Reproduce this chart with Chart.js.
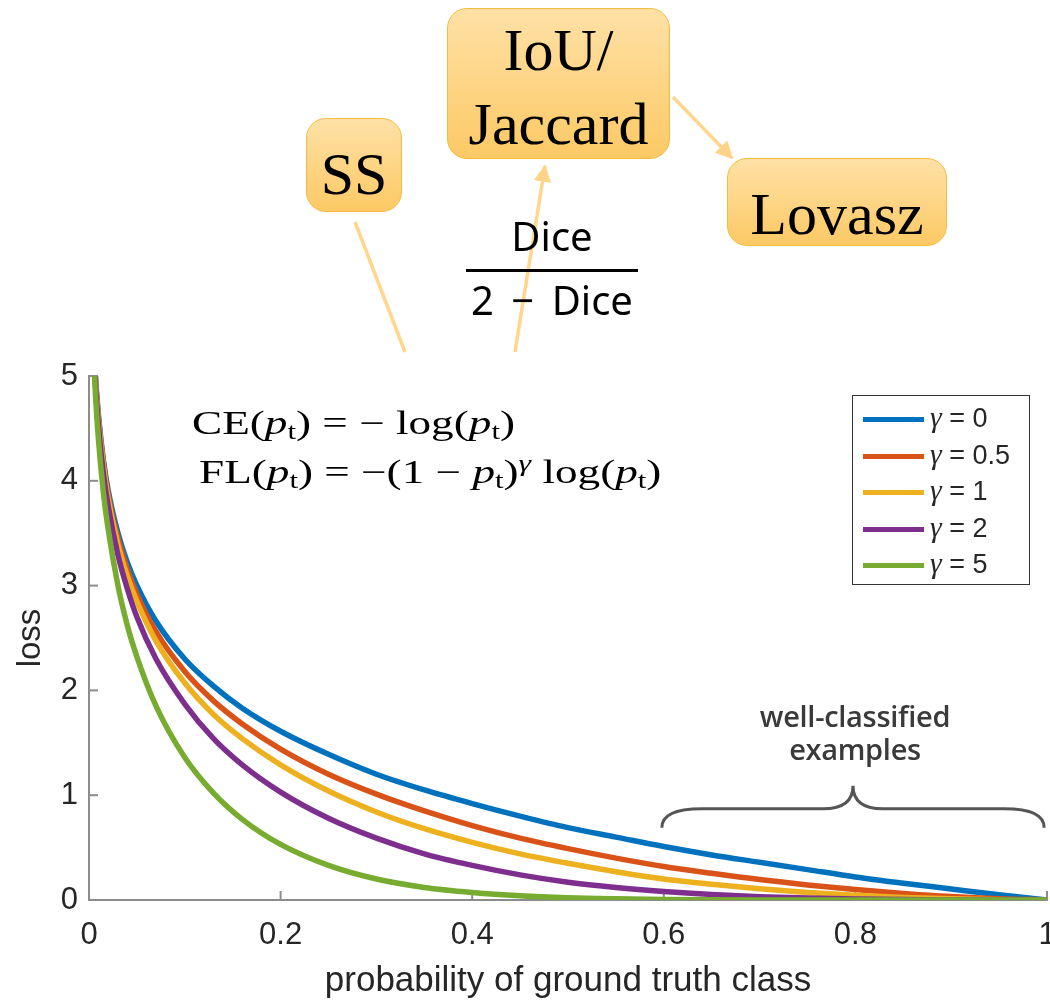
<!DOCTYPE html>
<html lang="en">
<head>
<meta charset="UTF-8">
<title>Focal loss vs probability</title>
<script src="https://cdn.jsdelivr.net/npm/chart.js"></script>
<style>
  body { margin: 0; background: #fff; }
  #wrap { position: relative; width: 1050px; height: 1000px; overflow: hidden; }
  #lossChart { position: absolute; left: 0; top: 0; }
  #overlay { position: absolute; left: 0; top: 0; pointer-events: none; }
  .box {
    position: absolute; box-sizing: border-box;
    border: 1.5px solid #f3bb40; border-radius: 20px;
    background: linear-gradient(#ffe1a6, #fcc965);
    font-family: 'Liberation Serif', serif; font-size: 60px; color: #000;
    text-align: center;
  }
  .formula {
    position: absolute; font-family: 'Liberation Serif', serif; font-size: 33px;
    color: #000; white-space: nowrap; transform-origin: 0 0; transform: scaleX(1.37);
  }
  .sub { font-size: 0.68em; vertical-align: -0.22em; }
  .frac {
    position: absolute; left: 462px; top: 208px; width: 180px;
    font-family: 'Noto Sans', sans-serif; font-size: 40px; text-align: center; color: #000;
  }
  .frac .bar { height: 3px; background: #000; margin: 6px 4px 0 4px; }
  .frac .den { word-spacing: 7px; margin-left: -8px; margin-right: -8px; }
  #legend {
    position: absolute; left: 852px; top: 395px; width: 178px; height: 190px;
    box-sizing: border-box; border: 1.5px solid #333; background: #fff;
    font-family: 'Liberation Sans', sans-serif; font-size: 27px; color: #262626;
  }
  .lrow { position: absolute; left: 10px; height: 30px; line-height: 30px; white-space: nowrap; }
  .lrow .sw { display: inline-block; width: 61px; height: 5px; vertical-align: middle; margin-right: 6px; }
  .lrow i { font-family: 'Liberation Serif', serif; font-size: 1.1em; }
  .note {
    position: absolute; left: 725px; top: 699px; width: 260px; text-align: center;
    font-family: 'Open Sans', sans-serif; font-size: 29px; font-weight: 600; line-height: 33px;
    color: #3a3a3a; letter-spacing: -0.3px;
  }
</style>
</head>
<body>
<div id="wrap">
  <canvas id="lossChart" width="1050" height="1000"></canvas>

  <svg id="overlay" width="1050" height="1000">
    <defs>
      <marker id="head" viewBox="0 0 10 10" refX="9" refY="5" markerWidth="5" markerHeight="5" orient="auto">
        <path d="M0,0 L10,5 L0,10 z" fill="#ffd489"/>
      </marker>
    </defs>
    <line x1="355" y1="222" x2="405" y2="352" stroke="#ffd68c" stroke-width="3.5"/>
    <line x1="515" y1="352" x2="545" y2="166" stroke="#ffd68c" stroke-width="3.5" marker-end="url(#head)"/>
    <line x1="673" y1="97" x2="732" y2="158" stroke="#ffd68c" stroke-width="3.5" marker-end="url(#head)"/>
  </svg>

  <div class="box" style="left:306px; top:118px; width:96px; height:94px; line-height:110px;">SS</div>
  <div class="box" style="left:447px; top:8px; width:223px; height:151px; line-height:74px; padding-top:4px;">IoU/<br>Jaccard</div>
  <div class="box" style="left:727px; top:158px; width:220px; height:88px; line-height:110px;">Lovasz</div>

  <div class="frac">
    <div>Dice</div>
    <div class="bar"></div>
    <div class="den">2 − Dice</div>
  </div>

  <div class="formula" style="left:192px; top:405px;">CE(<i>p</i><span class="sub">t</span>) = − log(<i>p</i><span class="sub">t</span>)</div>
  <div class="formula" style="left:199px; top:450px;">FL(<i>p</i><span class="sub">t</span>) = −(1 − <i>p</i><span class="sub">t</span>)<sup style="font-size:0.7em;"><i>γ</i></sup> log(<i>p</i><span class="sub">t</span>)</div>

  <div id="legend"></div>
  <div class="note">well-classified<br>examples</div>
</div>

<script>
// probability of ground truth class (x)
const probs = [0.005, 0.0067, 0.01, 0.015, 0.02, 0.03, 0.04, 0.05, 0.07, 0.1, 0.13, 0.16, 0.2, 0.25,
               0.3, 0.35, 0.4, 0.45, 0.5, 0.55, 0.6, 0.65, 0.7, 0.75, 0.8, 0.85, 0.9, 0.95, 1.0];

const lossG0   = [5.30, 5.00, 4.61, 4.20, 3.91, 3.51, 3.22, 3.00, 2.66, 2.30, 2.04, 1.83, 1.61, 1.39,
                  1.20, 1.05, 0.92, 0.80, 0.69, 0.60, 0.51, 0.43, 0.36, 0.29, 0.22, 0.16, 0.105, 0.05, 0];
const lossG05  = [5.29, 4.98, 4.59, 4.17, 3.87, 3.46, 3.16, 2.92, 2.56, 2.18, 1.90, 1.68, 1.44, 1.20,
                  1.01, 0.85, 0.71, 0.59, 0.49, 0.40, 0.32, 0.255, 0.195, 0.144, 0.10, 0.063, 0.033, 0.012, 0];
const lossG1   = [5.27, 4.97, 4.56, 4.14, 3.83, 3.40, 3.09, 2.85, 2.47, 2.07, 1.77, 1.54, 1.29, 1.04,
                  0.84, 0.68, 0.55, 0.44, 0.35, 0.27, 0.20, 0.15, 0.107, 0.072, 0.045, 0.024, 0.011, 0.003, 0];
const lossG2   = [5.25, 4.93, 4.51, 4.07, 3.76, 3.30, 2.97, 2.70, 2.30, 1.87, 1.54, 1.29, 1.03, 0.78,
                  0.59, 0.44, 0.33, 0.24, 0.17, 0.12, 0.082, 0.053, 0.032, 0.018, 0.009, 0.004, 0.001, 0, 0];
const lossG5   = [5.17, 4.83, 4.38, 3.89, 3.54, 3.01, 2.62, 2.32, 1.85, 1.36, 1.02, 0.77, 0.53, 0.33,
                  0.20, 0.12, 0.072, 0.040, 0.021, 0.011, 0.005, 0.002, 0.001, 0, 0, 0, 0, 0, 0];

const gammaLabels = ['γ = 0', 'γ = 0.5', 'γ = 1', 'γ = 2', 'γ = 5'];
const lineColors = ['#0072bd', '#d95319', '#edb120', '#7e2f8e', '#77ac30'];
const allLosses = [lossG0, lossG05, lossG1, lossG2, lossG5];

const xTickLabels = ['0', '0.2', '0.4', '0.6', '0.8', '1'];
const yTickLabels = ['0', '1', '2', '3', '4', '5'];
const xTitle = 'probability of ground truth class';
const yTitle = 'loss';

const axisGrey = '#8c8c8c';
const textDark = '#262626';

// inward tick marks + brace over the well-classified region
const axisExtras = {
    id: 'axisExtras',
    beforeDatasetsDraw(chart) {
        const {ctx, chartArea, scales} = chart;
        ctx.save();
        ctx.strokeStyle = axisGrey;
        ctx.lineWidth = 2;
        scales.x.ticks.forEach(t => {
            const px = scales.x.getPixelForValue(t.value);
            ctx.beginPath();
            ctx.moveTo(px, chartArea.bottom);
            ctx.lineTo(px, chartArea.bottom - 9);
            ctx.stroke();
        });
        scales.y.ticks.forEach(t => {
            const py = scales.y.getPixelForValue(t.value);
            ctx.beginPath();
            ctx.moveTo(chartArea.left, py);
            ctx.lineTo(chartArea.left + 9, py);
            ctx.stroke();
        });
        ctx.restore();
    },
    afterDatasetsDraw(chart) {
        const {ctx, scales} = chart;
        const x0 = scales.x.getPixelForValue(0.598);
        const x1 = scales.x.getPixelForValue(0.997);
        const xm = (x0 + x1) / 2;
        const yEnd = scales.y.getPixelForValue(0.69);
        const yMid = scales.y.getPixelForValue(0.87);
        const yTip = scales.y.getPixelForValue(1.09);
        ctx.save();
        ctx.strokeStyle = '#555';
        ctx.lineWidth = 3;
        ctx.beginPath();
        ctx.moveTo(x0, yEnd);
        ctx.quadraticCurveTo(x0, yMid, x0 + 40, yMid);
        ctx.lineTo(xm - 30, yMid);
        ctx.quadraticCurveTo(xm, yMid, xm, yTip);
        ctx.quadraticCurveTo(xm, yMid, xm + 30, yMid);
        ctx.lineTo(x1 - 40, yMid);
        ctx.quadraticCurveTo(x1, yMid, x1, yEnd);
        ctx.stroke();
        ctx.restore();
    }
};

const datasets = allLosses.map((vals, i) => ({
    label: gammaLabels[i],
    data: probs.map((p, j) => ({x: p, y: vals[j]})),
    borderColor: lineColors[i],
    borderWidth: 5.5,
    pointRadius: 0,
    cubicInterpolationMode: 'monotone',
    fill: false,
    order: allLosses.length - i
}));

const ctx = document.getElementById('lossChart').getContext('2d');
const lossChart = new Chart(ctx, {
    type: 'line',
    data: { datasets: datasets },
    options: {
        responsive: false,
        animation: false,
        layout: { padding: { top: 376, right: 3, left: 0, bottom: 0 } },
        plugins: { legend: { display: false }, tooltip: { enabled: false } },
        scales: {
            x: {
                type: 'linear', min: 0, max: 1,
                afterFit: s => { s.height = 100; s.paddingLeft = 0; s.paddingRight = 0; },
                grid: { display: true, drawOnChartArea: false, drawTicks: false },
                border: { color: axisGrey, width: 2 },
                ticks: {
                    stepSize: 0.2, padding: 17, maxRotation: 0, color: textDark,
                    font: { family: 'Liberation Sans', size: 31 },
                    callback: (v, i) => xTickLabels[i]
                },
                title: {
                    display: true, text: xTitle, color: textDark,
                    font: { family: 'Liberation Sans', size: 35 },
                    padding: { top: 0, bottom: -2 }
                }
            },
            y: {
                min: 0, max: 5,
                afterFit: s => { s.width = 89; },
                grid: { display: true, drawOnChartArea: false, drawTicks: false },
                border: { color: axisGrey, width: 2 },
                ticks: {
                    stepSize: 1, padding: 11, color: textDark,
                    font: { family: 'Liberation Sans', size: 31 },
                    callback: (v, i) => yTickLabels[i]
                },
                title: {
                    display: true, text: yTitle, color: textDark,
                    font: { family: 'Liberation Sans', size: 33 },
                    padding: { top: 11, bottom: 0 }
                }
            }
        }
    },
    plugins: [axisExtras]
});

// legend box built from the same series
const legendEl = document.getElementById('legend');
gammaLabels.forEach((lab, i) => {
    const row = document.createElement('div');
    row.className = 'lrow';
    row.style.top = (6 + i * 36.5) + 'px';
    row.innerHTML = '<span class="sw" style="background:' + lineColors[i] + '"></span>' +
        '<i>γ</i>' + lab.slice(1);
    legendEl.appendChild(row);
});
</script>
</body>
</html>
